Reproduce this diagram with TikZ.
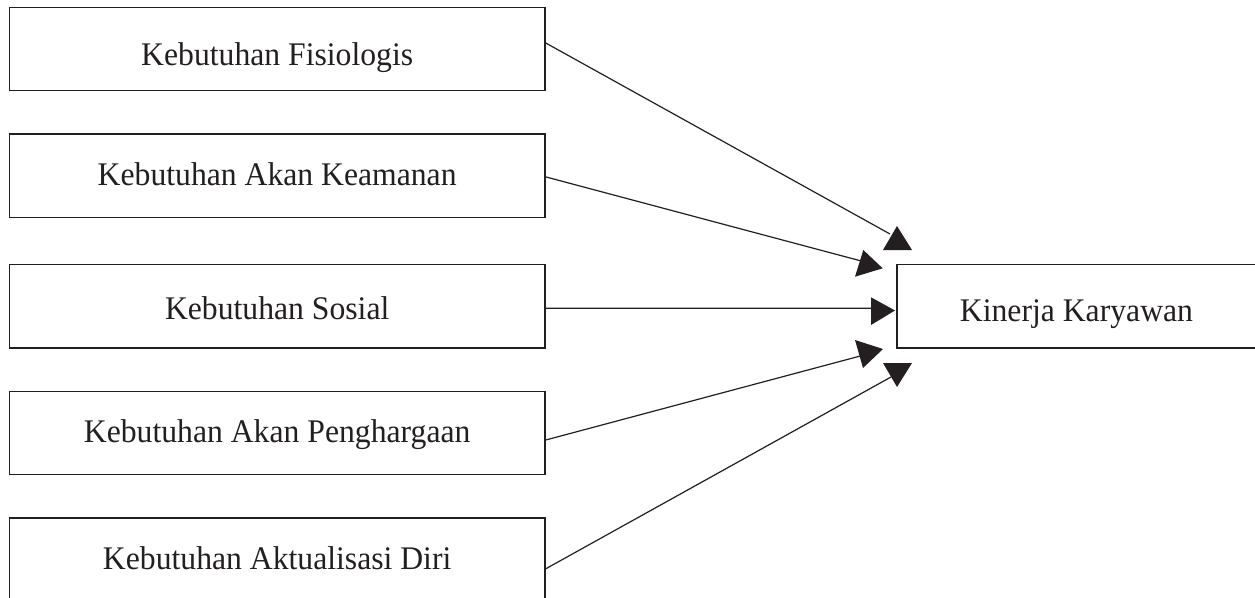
\documentclass[tikz,border=0pt]{standalone}
\usepackage{fontspec}
\setmainfont{Liberation Serif}
\newfontfamily\narrowserif{Liberation Serif}[FakeStretch=0.96]
\definecolor{ink}{RGB}{35,31,32}
\begin{document}
\begin{tikzpicture}[x=1pt,y=-1pt,
  box/.style={draw=ink,line width=1.4pt,rectangle,inner sep=0pt,
    minimum width=535.7pt,minimum height=83.5pt},
  goal/.style={draw=ink,line width=1.4pt,rectangle,inner sep=0pt,
    minimum width=359pt,minimum height=83.7pt},
  lbl/.style={anchor=base,inner sep=0pt,text=ink,
    font=\narrowserif\fontsize{33pt}{39pt}\selectfont},
  link/.style={draw=ink,line width=1.2pt},
  head/.style={fill=ink,draw=none}]
\useasboundingbox (0,0) rectangle (1255,597);

% factor boxes on the left
\node[box] (b1) at (277.2,49.0) {};
\node[box] (b2) at (277.2,175.9) {};
\node[box] (b3) at (277.2,306.2) {};
\node[box] (b4) at (277.2,433.0) {};
\node[box] (b5) at (277.2,559.8) {};
% outcome box on the right
\node[goal] (k) at (1076.5,306.2) {};

% labels
\node[lbl] (t1) at (277.2,65.0) {Kebutuhan Fisiologis};
\node[lbl] (t2) at (277.2,185.0) {Kebutuhan Akan Keamanan};
\node[lbl] (t3) at (277.2,319.7) {Kebutuhan Sosial};
\node[lbl] (t4) at (277.2,442.0) {Kebutuhan Akan Penghargaan};
\node[lbl] (t5) at (277.2,569.7) {Kebutuhan Aktualisasi Diri};
\node[lbl] (tk) at (1076.5,321.5) {Kinerja Karyawan};

% arrowhead ends of the connectors
\coordinate (e1) at (890,234);
\coordinate (e2) at (865,262);
\coordinate (e3) at (874,308.3);
\coordinate (e4) at (864,355);
\coordinate (e5) at (891,377);

% connectors
\draw[link] ([yshift=6pt]b1.east) -- (e1);
\draw[link] ([yshift=-1pt]b2.east) -- (e2);
\draw[link] ([yshift=-2pt]b3.east) -- (e3);
\draw[link] ([yshift=-7pt]b4.east) -- (e4);
\draw[link] ([yshift=-9pt]b5.east) -- (e5);

% triangular arrowheads
\path[head] (897,226) -- (912,250) -- (883,250) -- cycle;
\path[head] (863.3,250) -- (882.7,268.3) -- (855,276.7) -- cycle;
\path[head] (871,297.3) -- (895,310.5) -- (871,325) -- cycle;
\path[head] (855,340) -- (883,349) -- (863,368) -- cycle;
\path[head] (883,363) -- (912,363) -- (897,387) -- cycle;
\end{tikzpicture}
\end{document}
